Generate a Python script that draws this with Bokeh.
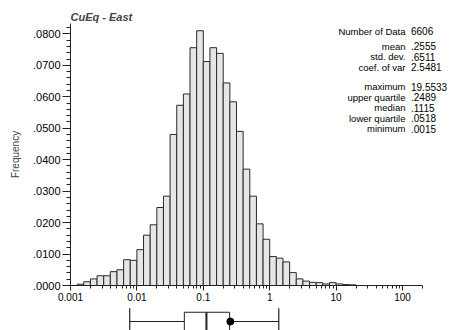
from bokeh.plotting import figure
from bokeh.layouts import column
from bokeh.models import (Range1d, FixedTicker, SingleIntervalTicker, CustomJSTickFormatter,
                          Label, ColumnDataSource)
from bokeh.embed import file_html
from bokeh.resources import INLINE
import math

# ---------------- data ----------------
title_text = "CuEq - East"
y_label = "Frequency"
# histogram: log10 bins of width 0.1 starting at 0.001
bin_log_start = -3.0
bin_log_width = 0.1
freq = [0.0000, 0.0004, 0.0012, 0.0021, 0.0031, 0.0031, 0.0044, 0.0050, 0.0082, 0.0080,
        0.0114, 0.0160, 0.0193, 0.0248, 0.0284, 0.0480, 0.0573, 0.0609, 0.0756, 0.0810,
        0.0712, 0.0756, 0.0738, 0.0644, 0.0584, 0.0490, 0.0370, 0.0284, 0.0196, 0.0147,
        0.0092, 0.0087, 0.0075, 0.0041, 0.0021, 0.0014, 0.0010, 0.0009, 0.0005, 0.0009,
        0.0005, 0.0003, 0.0002]

x_tick_values = [0.001, 0.01, 0.1, 1, 10, 100]
x_tick_labels = ["0.001", "0.01", "0.1", "1", "10", "100"]

stat_names_1 = ["Number of Data"]
stat_values_1 = ["6606"]
stat_names_2 = ["mean", "std. dev.", "coef. of var"]
stat_values_2 = [".2555", ".6511", "2.5481"]
stat_names_3 = ["maximum", "upper quartile", "median", "lower quartile", "minimum"]
stat_values_3 = ["19.5533", ".2489", ".1115", ".0518", ".0015"]

# box plot
whisker_low = 0.0078
q1 = 0.0518
med = 0.1115
q3 = 0.2489
whisker_high = 1.37
mean_val = 0.2555

# ---------------- layout ----------------
FONT = "Liberation Sans"
AX_X0, AX_X1 = 0.001, 200.0      # axis extent
Y0, Y1 = 0.0, 0.0833
W = 458
H1 = 305
H2 = 25
FRAME_L = 70                     # axis x-origin (px)
AXIS_W = 352                     # px length of x axis
FRAME_T = 23
FRAME_B = 285                    # x axis y (px)

px_per_dec = AXIS_W / (math.log10(AX_X1) - math.log10(AX_X0))
X1 = 10 ** (math.log10(AX_X0) + (W - FRAME_L) / px_per_dec)   # frame extends to right edge
px_per_y = (FRAME_B - FRAME_T) / (Y1 - Y0)

def px_to_x(px):
    return 10 ** (math.log10(AX_X0) + (px - FRAME_L) / px_per_dec)

def py_to_y(py):
    return Y0 + (FRAME_B - py) / px_per_y

p = figure(width=W, height=H1, x_axis_type="log", output_backend="svg", toolbar_location=None,
           x_range=Range1d(AX_X0, X1), y_range=Range1d(Y0, Y1),
           min_border_left=FRAME_L, min_border_right=0,
           min_border_top=FRAME_T, min_border_bottom=H1 - FRAME_B)
p.outline_line_color = None
p.grid.visible = False
p.background_fill_color = "white"
p.border_fill_color = "white"

# title
p.title.text = title_text
p.title.text_font = FONT
p.title.text_font_size = "11px"
p.title.text_font_style = "bold italic"
p.title.align = "left"
p.title.standoff = 1
p.title.offset = 0

lefts = [10 ** (bin_log_start + i * bin_log_width) for i in range(len(freq))]
rights = [10 ** (bin_log_start + (i + 1) * bin_log_width) for i in range(len(freq))]
src = ColumnDataSource(dict(left=lefts, right=rights, top=freq, bottom=[0.0] * len(freq)))
p.quad(left="left", right="right", top="top", bottom="bottom", source=src,
       fill_color="#e6e6e6", line_color="#2a2a2a", line_width=1)

# x axis
minor_x = [m * 10 ** k for k in range(-3, 3) for m in range(2, 10) if m * 10 ** k <= AX_X1]
xa = p.xaxis[0]
xa.bounds = (AX_X0, AX_X1)
xa.ticker = FixedTicker(ticks=x_tick_values, minor_ticks=minor_x)
xa.major_label_overrides = {v: l for v, l in zip(x_tick_values, x_tick_labels)}
xa.major_tick_in = 0
xa.major_tick_out = 5
xa.minor_tick_in = 0
xa.minor_tick_out = 3
xa.major_label_standoff = 2
xa.major_label_text_font = FONT
xa.major_label_text_font_size = "10px"
xa.major_label_text_color = "black"
xa.axis_line_color = "#222222"
xa.major_tick_line_color = "#222222"
xa.minor_tick_line_color = "#222222"

# y axis
ya = p.yaxis[0]
ya.ticker = SingleIntervalTicker(interval=0.01, num_minor_ticks=5)
ya.formatter = CustomJSTickFormatter(code="return tick.toFixed(4).replace(/^0/, '');")
ya.major_tick_in = 0
ya.major_tick_out = 8
ya.minor_tick_in = 0
ya.minor_tick_out = 4
ya.major_label_standoff = 2
ya.major_label_text_font = FONT
ya.major_label_text_font_size = "11px"
ya.major_label_text_color = "black"
ya.axis_label = y_label
ya.axis_label_text_font = FONT
ya.axis_label_text_font_size = "10px"
ya.axis_label_text_font_style = "normal"
ya.axis_label_standoff = 9
ya.axis_line_color = "#222222"
ya.major_tick_line_color = "#222222"
ya.minor_tick_line_color = "#222222"

# statistics block
name_x = px_to_x(405)
val_x = px_to_x(410.5)
groups = [(stat_names_1, stat_values_1, 30.5),
          (stat_names_2, stat_values_2, 45.5),
          (stat_names_3, stat_values_3, 86.0)]
for names, vals, start in groups:
    for i, (n, v) in enumerate(zip(names, vals)):
        yb = py_to_y(start + i * 10.5)
        p.add_layout(Label(x=name_x, y=yb, text=n, text_font=FONT, text_font_size="9.5px",
                           text_align="right", text_baseline="alphabetic", text_color="black"))
        p.add_layout(Label(x=val_x, y=yb, text=v, text_font=FONT, text_font_size="10px",
                           text_align="left", text_baseline="alphabetic", text_color="black"))

# ---------------- box plot ----------------
p2 = figure(width=W, height=H2, x_axis_type="log", output_backend="svg", toolbar_location=None,
            x_range=p.x_range, y_range=Range1d(0, 1),
            min_border_left=FRAME_L, min_border_right=0,
            min_border_top=0, min_border_bottom=0,
            x_axis_location=None, y_axis_location=None)
p2.outline_line_color = None
p2.grid.visible = False

yc = 0.36
p2.segment(x0=[whisker_low], y0=[yc], x1=[whisker_high], y1=[yc], line_color="#222222", line_width=1)
p2.segment(x0=[whisker_low, whisker_high], y0=[yc - 0.55, yc - 0.55],
           x1=[whisker_low, whisker_high], y1=[yc + 0.53, yc + 0.53],
           line_color="#222222", line_width=1.2)
p2.quad(left=[q1], right=[q3], bottom=[yc - 0.38], top=[yc + 0.37],
        fill_color="white", line_color="#222222", line_width=1)
p2.segment(x0=[med], y0=[yc - 0.38], x1=[med], y1=[yc + 0.37], line_color="#222222", line_width=2)
p2.scatter(x=[mean_val], y=[yc], size=7, color="black")

layout = column(p, p2, spacing=0)
open("out.html", "w").write(file_html(layout, INLINE))
